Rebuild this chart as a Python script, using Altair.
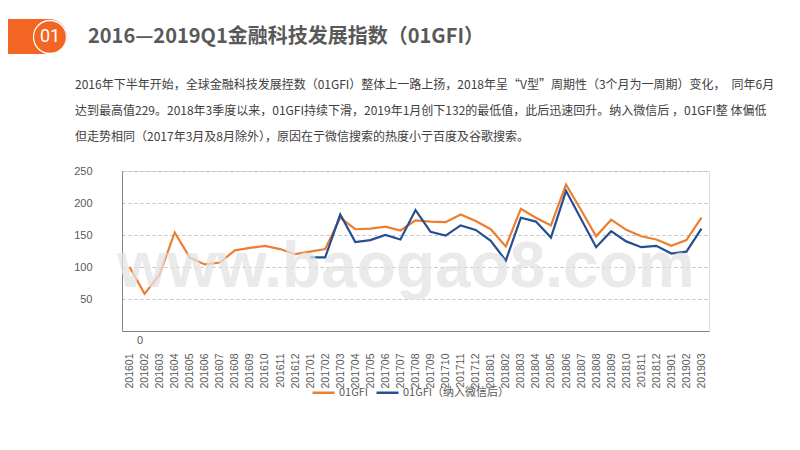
import altair as alt
import pandas as pd

# ---------------- data ----------------
months = [
    "201601", "201602", "201603", "201604", "201605", "201606", "201607", "201608",
    "201609", "201610", "201611", "201612",
    "201701", "201702", "201703", "201704", "201705", "201706", "201707", "201708",
    "201709", "201710", "201711", "201712",
    "201801", "201802", "201803", "201804", "201805", "201806", "201807", "201808",
    "201809", "201810", "201811", "201812",
    "201901", "201902", "201903",
]
gfi = [100, 58, 88, 154, 115, 104, 107, 126, 130, 133, 128, 120,
       124, 128, 177, 159, 160, 163, 157, 173, 171, 170, 182, 172,
       159, 132, 191, 177, 165, 229, 189, 148, 174, 158, 148, 143,
       133, 142, 177]
gfi_wechat = [None] * 12 + [
    115, 115, 182, 139, 142, 150, 143, 189, 155, 149, 165, 158,
    141, 110, 177, 171, 146, 219, 175, 131, 156, 140, 131, 133,
    121, 124, 160]
series_names = ["01GFI", "01GFI（纳入微信后）"]
series_colors = ["#ED7D31", "#264E92"]
y_ticks = [50, 100, 150, 200, 250]

badge_text = "01"
title_text = "2016—2019Q1金融科技发展指数（01GFI）"
para_lines = [
    "2016年下半年开始，全球金融科技发展挃数（01GFI）整体上一路上扬，2018年呈“V型”周期性（3个月为一周期）变化，　同年6月",
    "达到最高值229。2018年3季度以来，01GFI持续下滑，2019年1月创下132的最低值，此后迅速回升。纳入微信后 ，01GFI整 体偏低",
    "但走势相同（2017年3月及8月除外），原因在亍微信搜索的热度小亍百度及谷歌搜索。",
]
zero_label = "0"
watermark = "www.baogao8.com"

# ---------------- table ----------------
rows = []
for m, v in zip(months, gfi):
    rows.append({"month": m, "series": series_names[0], "value": v})
for m, v in zip(months, gfi_wechat):
    if v is not None:
        rows.append({"month": m, "series": series_names[1], "value": v})
df = pd.DataFrame(rows)

GRAY = "#595959"
CJK = "Noto Sans CJK SC"

lines = alt.Chart(df).mark_line(strokeWidth=2.2).encode(
    x=alt.X("month:O", scale=alt.Scale(domain=months),
            axis=alt.Axis(title=None, labelAngle=-90, labelPadding=22,
                          labelFont="Liberation Sans", labelFontSize=10.5,
                          labelColor=GRAY, labelOverlap=False, ticks=False,
                          tickSize=0, grid=False, domainColor="#868686")),
    y=alt.Y("value:Q", scale=alt.Scale(domain=[0, 250], nice=False),
            axis=alt.Axis(title=None, values=y_ticks, labelPadding=30,
                          labelFont="Liberation Sans", labelFontSize=11,
                          labelColor=GRAY, ticks=False, tickSize=0, grid=True,
                          gridDash=[3, 3], gridColor="#BFBFBF",
                          domainColor="#868686")),
    color=alt.Color("series:N",
                    scale=alt.Scale(domain=series_names, range=series_colors),
                    legend=alt.Legend(title=None, orient="none", legendX=189,
                                      legendY=209, direction="horizontal",
                                      symbolType="stroke", symbolSize=484,
                                      symbolStrokeWidth=2.5, labelFont=CJK,
                                      labelFontSize=11, labelColor=GRAY,
                                      labelOffset=3, columnPadding=2,
                                      padding=0)),
    order=alt.Order("series:N"),
)

one = pd.DataFrame({"k": [0]})

bar = alt.Chart(one).mark_rect(color="#F26522", cornerRadiusTopRight=17.5,
                               cornerRadiusBottomRight=17.5).encode(
    x=alt.value(-114), x2=alt.value(-55), y=alt.value(-152), y2=alt.value(-117))

ring = alt.Chart(one).mark_point(shape="circle", filled=False, color="white",
                                 size=1089, strokeWidth=1.3, opacity=1).encode(
    x=alt.value(-72), y=alt.value(-134))

badge = alt.Chart(pd.DataFrame({"t": [badge_text]})).mark_text(
    font="Roboto", fontSize=18, color="white", align="center",
    baseline="middle").encode(x=alt.value(-72), y=alt.value(-134), text="t:N")

title = alt.Chart(pd.DataFrame({"t": [title_text]})).mark_text(
    font=CJK, fontSize=20, fontWeight="bold", color=GRAY, align="left",
    baseline="middle").encode(x=alt.value(-34), y=alt.value(-134), text="t:N")

para_layers = []
for i, line in enumerate(para_lines):
    para_layers.append(
        alt.Chart(pd.DataFrame({"t": [line]})).mark_text(
            font=CJK, fontSize=12, color="#404040", align="left",
            baseline="middle").encode(x=alt.value(-47), y=alt.value(-86 + 26 * i),
                                      text="t:N"))

zero = alt.Chart(pd.DataFrame({"t": [zero_label]})).mark_text(
    font="Liberation Sans", fontSize=11, color=GRAY, align="center",
    baseline="middle").encode(x=alt.value(18), y=alt.value(170), text="t:N")

wm = alt.Chart(pd.DataFrame({"t": [watermark]})).mark_text(
    font="Liberation Sans", fontSize=64, fontWeight="bold", color="#E4E4E4",
    opacity=0.75, align="center", baseline="alphabetic").encode(
    x=alt.value(284), y=alt.value(116), text="t:N")

chart = alt.layer(lines, bar, ring, badge, title, *para_layers, zero, wm).properties(
    width=587, height=160,
    padding={"left": 114, "top": 163, "right": 83, "bottom": 111},
    autosize=alt.AutoSizeParams(type="none"),
).configure_view(stroke=None).configure(background="white")

chart.save("out.html", embed_options={"renderer": "svg", "actions": False})
